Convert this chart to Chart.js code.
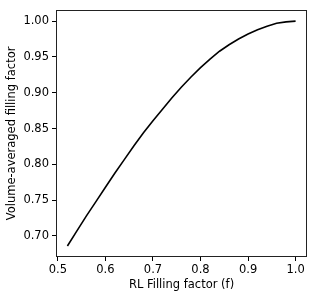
<!DOCTYPE html>
<html>
<head>
<meta charset="utf-8">
<script src="https://cdn.jsdelivr.net/npm/chart.js@4/dist/chart.umd.min.js"></script>
<style>
  html, body { margin: 0; padding: 0; background: #fff; }
  #wrap { width: 315px; height: 299px; }
</style>
</head>
<body>
<div id="wrap"><canvas id="chart"></canvas></div>
<script>
'use strict';

// data
let fillFactor = [0.52, 0.54, 0.56, 0.58, 0.60, 0.62, 0.64, 0.66, 0.68, 0.70, 0.72, 0.74, 0.76,
  0.78, 0.80, 0.82, 0.84, 0.86, 0.88, 0.90, 0.92, 0.94, 0.96, 0.98, 1.00];
let volumeFill = [0.686, 0.707, 0.728, 0.748, 0.768, 0.788, 0.807, 0.826, 0.844, 0.861, 0.877, 0.893, 0.908,
  0.922, 0.935, 0.947, 0.958, 0.967, 0.975, 0.982, 0.988, 0.993, 0.997, 0.999, 1.000];

let xTicks = [0.5, 0.6, 0.7, 0.8, 0.9, 1.0];
let yTicks = [0.70, 0.75, 0.80, 0.85, 0.90, 0.95, 1.00];

let tickFont = { family: 'DejaVu Sans', size: 11.5 };

// matplotlib style box around the plot area
let boxPlugin = {
  id: 'box',
  afterDraw(chart) {
    let c = chart.ctx;
    let a = chart.chartArea;
    c.save();
    c.strokeStyle = '#222';
    c.lineWidth = 1;
    c.strokeRect(Math.round(a.left) + 0.5, Math.round(a.top) + 0.5,
      Math.round(a.right - a.left) - 1, Math.round(a.bottom - a.top) - 1);
    c.restore();
  }
};

let points = [];
for (let i = 0; i < fillFactor.length; i++) {
  points.push({ x: fillFactor[i], y: volumeFill[i] });
}

let ctx = document.getElementById('chart').getContext('2d');

const myChart = new Chart(ctx, {
  type: 'line',
  data: {
    datasets: [{
      data: points,
      borderColor: '#000',
      borderWidth: 1.6,
      pointRadius: 0,
      tension: 0,
      fill: false
    }]
  },
  options: {
    responsive: true,
    maintainAspectRatio: false,
    animation: false,
    devicePixelRatio: 1,
    layout: { padding: { top: 7, right: 8, left: 0, bottom: 0 } },
    plugins: {
      legend: { display: false },
      tooltip: { enabled: false }
    },
    scales: {
      x: {
        type: 'linear',
        min: 0.496,
        max: 1.024,
        afterBuildTicks: axis => { axis.ticks = xTicks.map(v => ({ value: v })); },
        afterFit: axis => { axis.height = 42; },
        ticks: {
          color: '#000',
          font: tickFont,
          padding: 2,
          maxRotation: 0,
          callback: v => v.toFixed(1)
        },
        grid: { drawOnChartArea: false, drawTicks: true, tickLength: 4, color: '#000', tickWidth: 1 },
        border: { display: false },
        title: {
          display: true,
          text: 'RL Filling factor (f)',
          color: '#000',
          font: tickFont,
          padding: { top: 0, bottom: 7 }
        }
      },
      y: {
        type: 'linear',
        min: 0.6706,
        max: 1.0157,
        afterBuildTicks: axis => { axis.ticks = yTicks.map(v => ({ value: v })); },
        afterFit: axis => { axis.width = 56; },
        ticks: {
          color: '#000',
          font: tickFont,
          padding: 3,
          callback: v => v.toFixed(2)
        },
        grid: { drawOnChartArea: false, drawTicks: true, tickLength: 4, color: '#000', tickWidth: 1 },
        border: { display: false },
        title: {
          display: true,
          text: 'Volume-averaged filling factor',
          color: '#000',
          font: tickFont,
          padding: { top: 5, bottom: 0 }
        }
      }
    }
  },
  plugins: [boxPlugin]
});
</script>
</body>
</html>
